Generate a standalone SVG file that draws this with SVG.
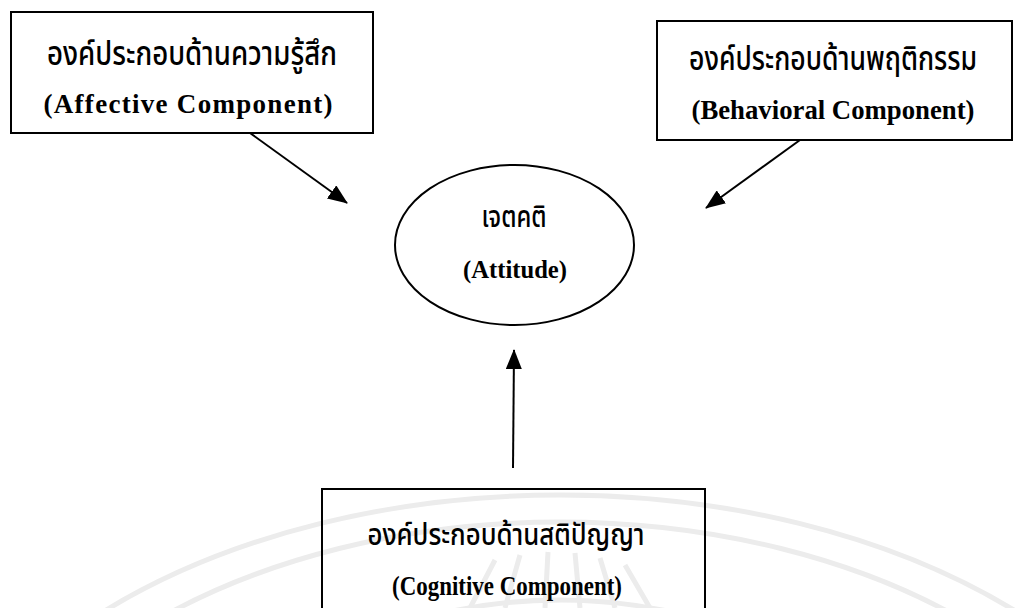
<svg xmlns="http://www.w3.org/2000/svg" width="1015" height="608" viewBox="0 0 1015 608">
  <style>
    .box { fill: none; stroke: #000; stroke-width: 2; }
    .th { font-family: "Noto Sans Thai", "Noto Serif Thai", "Loma", "Garuda", "Norasi", "Noto Sans", "DejaVu Sans", sans-serif; font-weight: 500; fill: #000; text-anchor: middle; }
    .en { font-family: "Liberation Serif", "Times New Roman", serif; font-weight: bold; fill: #000; text-anchor: middle; }
    .conn { stroke: #000; stroke-width: 2; fill: none; }
    .wm { fill: none; stroke: #ececec; stroke-width: 5; }
  </style>
  <defs>
    <marker id="arrow" viewBox="0 0 20 16" refX="19" refY="8" markerWidth="20" markerHeight="16" markerUnits="userSpaceOnUse" orient="auto">
      <path d="M0,0 L20,8 L0,16 Z" fill="#000"/>
    </marker>
  </defs>
  <rect width="1015" height="608" fill="#fff"/>
  <g id="watermark">
    <ellipse class="wm" cx="560" cy="900" rx="650" ry="405"/>
    <ellipse class="wm" cx="560" cy="900" rx="600" ry="378"/>
    <ellipse class="wm" cx="560" cy="900" rx="400" ry="300"/>
    <path class="wm" d="M470,608 L495,560 M505,608 L520,555 M545,608 L548,552 M580,608 L575,553 M615,608 L600,558 M650,608 L625,565"/>
  </g>
  <g id="connectors">
    <line class="conn" x1="250" y1="133" x2="347" y2="203" marker-end="url(#arrow)"/>
    <line class="conn" x1="800" y1="140" x2="706" y2="208" marker-end="url(#arrow)"/>
    <line class="conn" x1="513" y1="468" x2="514" y2="350" marker-end="url(#arrow)"/>
  </g>
  <g id="affective">
    <rect class="box" x="11" y="12" width="362" height="121"/>
    <text class="th" x="192" y="65" font-size="34" textLength="290" lengthAdjust="spacingAndGlyphs">องค์ประกอบด้านความรู้สึก</text>
    <text class="en" x="188" y="113" font-size="27" textLength="289" lengthAdjust="spacing">(Affective Component)</text>
  </g>
  <g id="behavioral">
    <rect class="box" x="657" y="21" width="355" height="119"/>
    <text class="th" x="833" y="70" font-size="34" textLength="288" lengthAdjust="spacingAndGlyphs">องค์ประกอบด้านพฤติกรรม</text>
    <text class="en" x="833" y="119" font-size="27" textLength="283" lengthAdjust="spacingAndGlyphs">(Behavioral Component)</text>
  </g>
  <g id="attitude">
    <ellipse class="box" cx="514.5" cy="245" rx="119.5" ry="80"/>
    <text class="th" x="514" y="227" font-size="30" textLength="65" lengthAdjust="spacingAndGlyphs">เจตคติ</text>
    <text class="en" x="515" y="278" font-size="25" textLength="104" lengthAdjust="spacingAndGlyphs">(Attitude)</text>
  </g>
  <g id="cognitive">
    <rect class="box" x="322" y="489" width="383" height="140"/>
    <text class="th" x="506" y="545" font-size="30" textLength="277" lengthAdjust="spacingAndGlyphs">องค์ประกอบด้านสติปัญญา</text>
    <text class="en" x="507" y="595" font-size="27" textLength="230" lengthAdjust="spacingAndGlyphs">(Cognitive Component)</text>
  </g>
</svg>
